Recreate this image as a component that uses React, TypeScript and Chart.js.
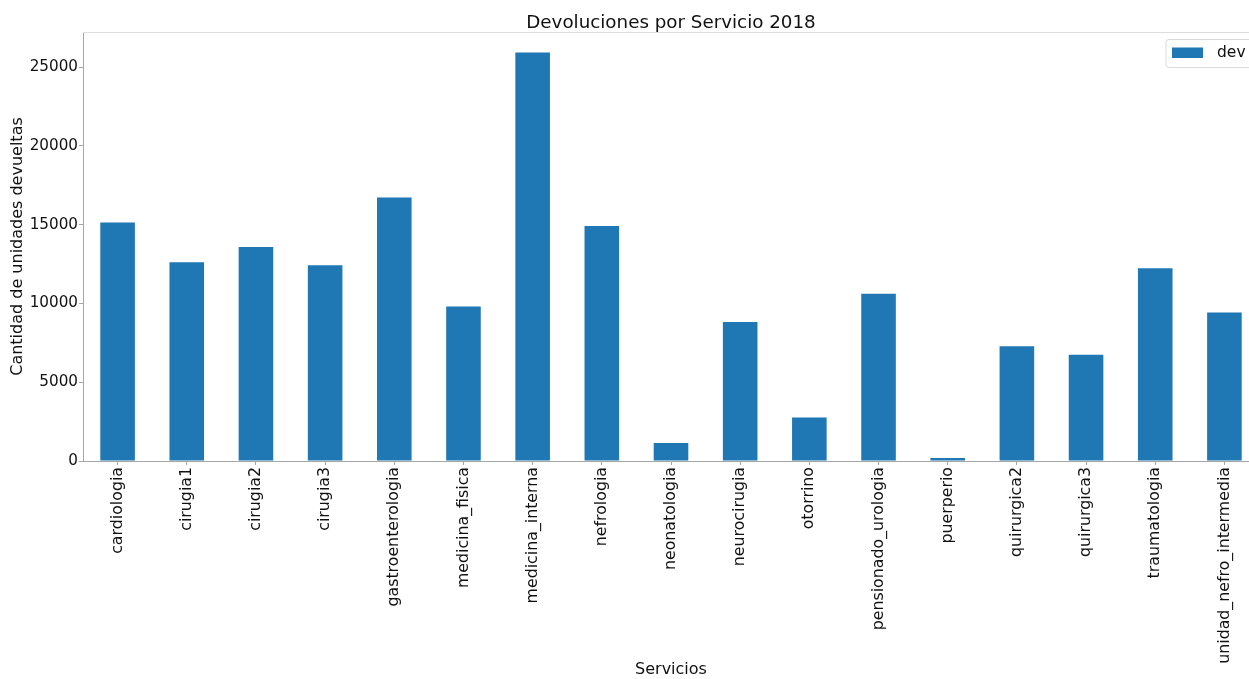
import React, { useEffect, useRef } from "react";
import { Chart, registerables } from "chart.js";

Chart.register(...registerables);

const categories = [
  "cardiologia",
  "cirugia1",
  "cirugia2",
  "cirugia3",
  "gastroenterologia",
  "medicina_fisica",
  "medicina_interna",
  "nefrologia",
  "neonatologia",
  "neurocirugia",
  "otorrino",
  "pensionado_urologia",
  "puerperio",
  "quirurgica2",
  "quirurgica3",
  "traumatologia",
  "unidad_nefro_intermedia",
];

const devValues = [
  15140, 12610, 13580, 12420, 16730, 9800, 25930, 14910, 1140, 8830, 2760,
  10620, 190, 7290, 6740, 12230, 9420,
];

const yTickValues = [0, 5000, 10000, 15000, 20000, 25000];
const yMax = 27230;

const seriesLabel = "dev";
const chartTitle = "Devoluciones por Servicio 2018";
const xTitle = "Servicios";
const yTitle = "Cantidad de unidades devueltas";

const FONT = "'DejaVu Sans', sans-serif";
const BAR_COLOR = "#1f77b4";
const SPINE = "#a6a6a6";

const decorPlugin = {
  id: "decor",
  afterDraw(chart: any) {
    const { ctx, chartArea } = chart;
    ctx.save();
    // top spine
    ctx.strokeStyle = "#dddddd";
    ctx.lineWidth = 1;
    ctx.beginPath();
    ctx.moveTo(chartArea.left, Math.round(chartArea.top) + 0.5);
    ctx.lineTo(chartArea.right, Math.round(chartArea.top) + 0.5);
    ctx.stroke();
    // title
    ctx.fillStyle = "#111";
    ctx.font = `18.3px ${FONT}`;
    ctx.textAlign = "center";
    ctx.textBaseline = "alphabetic";
    ctx.fillText(chartTitle, (chartArea.left + chartArea.right) / 2, 27.5);
    // legend
    const lx = chartArea.right - 93;
    const ly = chartArea.top + 7.5;
    const lw = 86;
    const lh = 28;
    const r = 3;
    ctx.beginPath();
    ctx.moveTo(lx + r, ly);
    ctx.lineTo(lx + lw - r, ly);
    ctx.arcTo(lx + lw, ly, lx + lw, ly + r, r);
    ctx.lineTo(lx + lw, ly + lh - r);
    ctx.arcTo(lx + lw, ly + lh, lx + lw - r, ly + lh, r);
    ctx.lineTo(lx + r, ly + lh);
    ctx.arcTo(lx, ly + lh, lx, ly + lh - r, r);
    ctx.lineTo(lx, ly + r);
    ctx.arcTo(lx, ly, lx + r, ly, r);
    ctx.closePath();
    ctx.fillStyle = "rgba(255,255,255,0.85)";
    ctx.fill();
    ctx.strokeStyle = "#d9d9d9";
    ctx.stroke();
    ctx.fillStyle = BAR_COLOR;
    ctx.fillRect(lx + 6, ly + 8, 31, 10.5);
    ctx.fillStyle = "#111";
    ctx.font = `15.5px ${FONT}`;
    ctx.textAlign = "left";
    ctx.textBaseline = "middle";
    ctx.fillText(chart.data.datasets[0].label, lx + 51, ly + 13.5);
    ctx.restore();
  },
};

export default function App() {
  const canvasRef = useRef<HTMLCanvasElement | null>(null);

  useEffect(() => {
    document.body.style.margin = "0";
    const canvas = canvasRef.current;
    if (!canvas) return;
    const chart = new Chart(canvas, {
      type: "bar",
      data: {
        labels: categories,
        datasets: [
          {
            label: seriesLabel,
            data: devValues,
            backgroundColor: BAR_COLOR,
            borderWidth: 0,
            categoryPercentage: 1,
            barPercentage: 0.5,
          },
        ],
      },
      options: {
        responsive: false,
        animation: false,
        devicePixelRatio: 1,
        layout: { padding: { top: 32, left: 0, right: 0, bottom: 0 } },
        plugins: {
          legend: { display: false },
          title: { display: false },
          tooltip: { enabled: false },
        },
        scales: {
          x: {
            type: "category",
            offset: true,
            grid: {
              display: true,
              drawOnChartArea: false,
              drawTicks: true,
              tickLength: 4,
              tickColor: SPINE,
              offset: false,
            },
            border: { display: true, color: SPINE, width: 1 },
            ticks: {
              autoSkip: false,
              minRotation: 90,
              maxRotation: 90,
              padding: 2,
              color: "#111",
              font: { family: FONT, size: 15.8 },
            },
            title: {
              display: true,
              text: xTitle,
              color: "#111",
              font: { family: FONT, size: 16 },
              padding: { top: 0, bottom: 0 },
            },
            afterFit(scale: any) {
              scale.height = 218;
            },
          },
          y: {
            min: 0,
            max: yMax,
            grid: {
              display: true,
              drawOnChartArea: false,
              drawTicks: true,
              tickLength: 4,
              tickColor: SPINE,
            },
            border: { display: true, color: SPINE, width: 1 },
            afterBuildTicks(scale: any) {
              scale.ticks = yTickValues.map((v) => ({ value: v }));
            },
            ticks: {
              padding: 1,
              color: "#111",
              font: { family: FONT, size: 15.2 },
              callback: (v: any) => String(v),
            },
            title: {
              display: true,
              text: yTitle,
              color: "#111",
              font: { family: FONT, size: 16 },
              padding: { top: 8.5, bottom: 0 },
            },
            afterFit(scale: any) {
              scale.width = 83;
            },
          },
        },
      },
      plugins: [decorPlugin],
    });
    return () => chart.destroy();
  }, []);

  return (
    <div
      style={{
        position: "fixed",
        left: 0,
        top: 0,
        width: 1249,
        height: 679,
        overflow: "hidden",
        background: "#fff",
      }}
    >
      <canvas
        ref={canvasRef}
        width={1259}
        height={679}
        style={{ width: 1259, height: 679, display: "block" }}
      />
    </div>
  );
}
